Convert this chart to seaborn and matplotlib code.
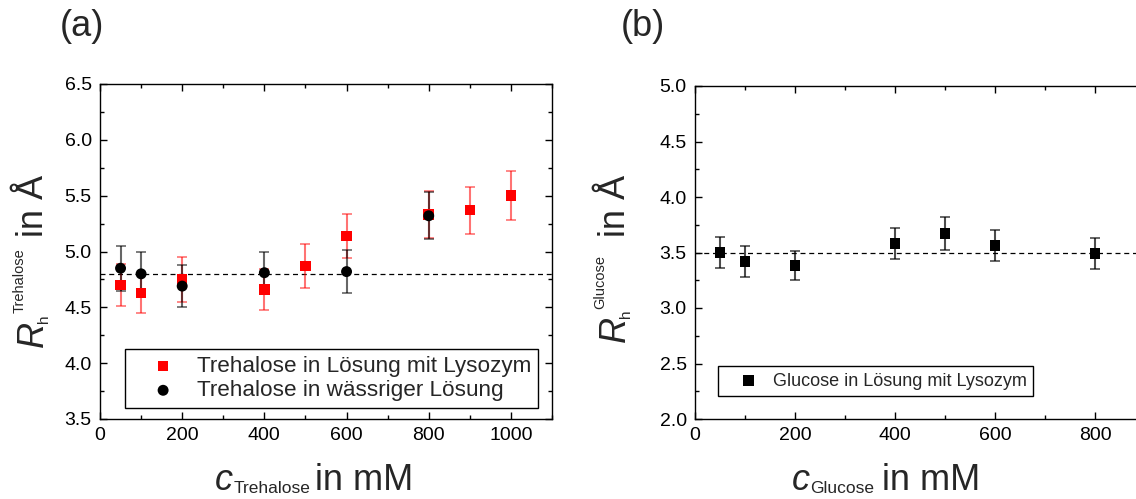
import numpy as np
import pandas as pd
import matplotlib
matplotlib.use("Agg")
import matplotlib.pyplot as plt
import seaborn as sns
from matplotlib.ticker import MultipleLocator, FormatStrFormatter

# ---- data ----
treh_lys_c = [50, 100, 200, 400, 500, 600, 800, 900, 1000]
treh_lys_r = [4.70, 4.63, 4.75, 4.66, 4.87, 5.14, 5.33, 5.37, 5.50]
treh_lys_e = [0.19, 0.18, 0.20, 0.18, 0.20, 0.20, 0.21, 0.21, 0.22]

treh_aq_c = [50, 100, 200, 400, 600, 800]
treh_aq_r = [4.85, 4.80, 4.69, 4.81, 4.82, 5.32]
treh_aq_e = [0.20, 0.20, 0.19, 0.19, 0.19, 0.21]

glc_c = [50, 100, 200, 400, 500, 600, 800]
glc_r = [3.50, 3.42, 3.38, 3.58, 3.67, 3.56, 3.49]
glc_e = [0.14, 0.14, 0.13, 0.14, 0.15, 0.14, 0.14]

treh_ref = 4.8
glc_ref = 3.5

label_lys = "Trehalose in Lösung mit Lysozym"
label_aq = "Trehalose in wässriger Lösung"
label_glc = "Glucose in Lösung mit Lysozym"

df_lys = pd.DataFrame({"c": treh_lys_c, "R": treh_lys_r})
df_aq = pd.DataFrame({"c": treh_aq_c, "R": treh_aq_r})
df_glc = pd.DataFrame({"c": glc_c, "R": glc_r})

sns.set_style("ticks")
plt.rcParams["font.family"] = ["Liberation Sans", "DejaVu Sans"]

W, H = 1136, 499
fig = plt.figure(figsize=(W / 100, H / 100), dpi=100)

axA = fig.add_axes([100 / W, 1 - 419 / H, 452 / W, 335 / H])
axB = fig.add_axes([695 / W, 1 - 419 / H, 450 / W, 333 / H])


def style_axis(ax):
    for s in ax.spines.values():
        s.set_linewidth(1.0)
        s.set_color("black")
    ax.tick_params(which="both", direction="in", top=True, right=True,
                   colors="black", labelsize=14, pad=6)
    ax.tick_params(which="major", length=5, width=1)
    ax.tick_params(which="minor", length=3, width=1)
    ax.grid(False)


def ptext(x, y, s, size, style="normal", rot=0):
    """Place text at pixel position (x from left, y from top), baseline anchored."""
    fig.text(x / W, 1 - y / H, s, fontsize=size, fontstyle=style,
             rotation=rot, rotation_mode="anchor", ha="left", va="baseline")


# ---- panel (a) ----
ax = axA
ax.errorbar(treh_lys_c, treh_lys_r, yerr=treh_lys_e, fmt="none",
            ecolor=(1, 0, 0, 0.55), elinewidth=1.5, capsize=3.5, capthick=1.2, zorder=2)
ax.errorbar(treh_aq_c, treh_aq_r, yerr=treh_aq_e, fmt="none",
            ecolor=(0, 0, 0, 0.6), elinewidth=1.5, capsize=3.5, capthick=1.2, zorder=2)
sns.scatterplot(data=df_lys, x="c", y="R", ax=ax, marker="s", color="#ff0000",
                s=58, edgecolor="none", label=label_lys, zorder=3)
sns.scatterplot(data=df_aq, x="c", y="R", ax=ax, marker="o", color="black",
                s=62, edgecolor="none", label=label_aq, zorder=4)
ax.axhline(treh_ref, color="black", ls=(0, (4, 3)), lw=0.9, zorder=1)
ax.set_xlim(0, 1100)
ax.set_ylim(3.5, 6.5)
ax.set_xticks([0, 200, 400, 600, 800, 1000])
ax.xaxis.set_minor_locator(MultipleLocator(100))
ax.yaxis.set_major_locator(MultipleLocator(0.5))
ax.yaxis.set_minor_locator(MultipleLocator(0.25))
ax.yaxis.set_major_formatter(FormatStrFormatter("%.1f"))
style_axis(ax)
ax.set_xlabel("")
ax.set_ylabel("")
leg = ax.legend(loc="lower left", bbox_to_anchor=(0.055, 0.033), borderaxespad=0,
                fontsize=16.2, frameon=True, fancybox=False, edgecolor="black",
                framealpha=1, handletextpad=0.1, borderpad=0.3, labelspacing=0.15,
                handlelength=2.8, markerscale=1.0)
leg.get_frame().set_linewidth(1.0)

# ---- panel (b) ----
ax = axB
ax.errorbar(glc_c, glc_r, yerr=glc_e, fmt="none",
            ecolor=(0, 0, 0, 0.7), elinewidth=1.5, capsize=3.5, capthick=1.2, zorder=2)
sns.scatterplot(data=df_glc, x="c", y="R", ax=ax, marker="s", color="black",
                s=62, edgecolor="none", label=label_glc, zorder=3)
ax.axhline(glc_ref, color="black", ls=(0, (4, 3)), lw=0.9, zorder=1)
ax.set_xlim(0, 900)
ax.set_ylim(2.0, 5.0)
ax.set_xticks([0, 200, 400, 600, 800])
ax.xaxis.set_minor_locator(MultipleLocator(100))
ax.yaxis.set_major_locator(MultipleLocator(0.5))
ax.yaxis.set_minor_locator(MultipleLocator(0.25))
ax.yaxis.set_major_formatter(FormatStrFormatter("%.1f"))
style_axis(ax)
ax.set_xlabel("")
ax.set_ylabel("")
leg = ax.legend(loc="lower left", bbox_to_anchor=(0.051, 0.069), borderaxespad=0,
                fontsize=13, frameon=True, fancybox=False, edgecolor="black",
                framealpha=1, handletextpad=0.05, borderpad=0.35,
                handlelength=2.65)
leg.get_frame().set_linewidth(1.0)

# ---- axis labels (composed: italic symbol + small sub/superscripts) ----
# panel (a) x label
ptext(215, 490, "c", 26, "italic")
ptext(234, 493, "Trehalose", 12.5)
ptext(315, 490, "in mM", 26)
# panel (a) y label
ptext(43, 347, "R", 26, "italic", 90)
ptext(48, 323, "h", 11, "normal", 90)
ptext(24, 313, "Trehalose", 10.5, "normal", 90)
ptext(43, 237, "in Å", 26, "normal", 90)
# panel (b) x label
ptext(792, 490, "c", 26, "italic")
ptext(810, 493, "Glucose", 12.5)
ptext(882, 490, "in mM", 26)
# panel (b) y label
ptext(625, 342, "R", 26, "italic", 90)
ptext(630, 318, "h", 11, "normal", 90)
ptext(604, 309, "Glucose", 10.5, "normal", 90)
ptext(625, 237, "in Å", 26, "normal", 90)

# panel letters
fig.text(82 / W, 1 - 26 / H, "(a)", fontsize=26, ha="center", va="center")
fig.text(643 / W, 1 - 26 / H, "(b)", fontsize=26, ha="center", va="center")

fig.savefig("out.png", dpi=100)
